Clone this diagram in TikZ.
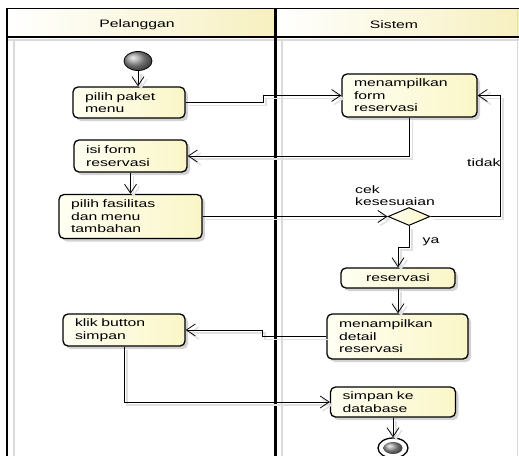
\documentclass[tikz,border=0pt]{standalone}
\usepackage{fontspec}
\setmainfont[FakeStretch=1.46]{Liberation Sans}
\usetikzlibrary{arrows.meta,shapes.geometric,shadows,calc}
\definecolor{boxlite}{HTML}{FFFFF2}
\definecolor{boxdeep}{HTML}{FAF6C8}
\definecolor{headdeep}{HTML}{F7F0C0}
\definecolor{laneshadow}{HTML}{DADADA}

\begin{document}
\begin{tikzpicture}[x=1pt,y=-1pt,
  txt/.style={font=\fontsize{10.8}{12.6}\selectfont},
  lbl/.style={txt, inner sep=0pt},
  act/.style={txt, draw=black, line width=1.3pt, rounded corners=5pt,
    left color=boxlite, right color=boxdeep, align=left,
    inner xsep=12pt, inner ysep=0pt,
    drop shadow={shadow xshift=3pt, shadow yshift=-3pt, opacity=0.35, fill=black!50}},
  flow/.style={draw=black, line width=0.8pt,
    -{Straight Barb[length=9pt,width=12pt]},
    preaction={draw=black!12, line width=1.4pt, transform canvas={shift={(3pt,-3pt)}}}},
  lane/.style={line width=1.6pt, black},
]
\useasboundingbox (0,0) rectangle (519,455);
\clip (0,0) rectangle (519,455);

% swimlane headers
\shade[left color=white, right color=headdeep] (7,8.5) rectangle (275.5,37);
\shade[left color=white, right color=headdeep] (275.5,8.5) rectangle (519,37);
\draw[laneshadow, line width=2pt] (7,40) -- (519,40);
\draw[laneshadow, line width=2pt] (14,40) -- (14,460);
\draw[laneshadow, line width=2pt] (282,40) -- (282,460);
\draw[laneshadow, line width=1pt] (517,8) -- (517,460);
\draw[lane] (7,8.5) -- (519,8.5);
\draw[lane] (7,37) -- (519,37);
\draw[lane] (7,7.7) -- (7,460);
\draw[lane, line width=2.6pt] (275.5,7.7) -- (275.5,460);
\node[lbl] (hP) at (137,25) {Pelanggan};
\node[lbl] (hS) at (394,25) {Sistem};

% start / end
\node[ellipse, draw, line width=0.8pt, minimum width=28pt, minimum height=19pt,
  inner sep=0pt, ball color=black!40] (start) at (138,61) {};
\node[ellipse, draw, line width=1.3pt, fill=white, minimum width=30pt,
  minimum height=20pt, inner sep=0pt] (stop) at (393,448) {};
\node[ellipse, ball color=black!40, minimum width=19pt, minimum height=12pt,
  inner sep=0pt] (stopcore) at (stop.center) {};

% actions
\node[act, text width=88pt, minimum height=31pt] (p1) at (129,102.5) {pilih paket\\menu};
\node[act, text width=111pt, minimum height=43pt] (m1) at (409.5,95.5) {menampilkan\\form\\reservasi};
\node[act, text width=89pt, minimum height=32pt] (i1) at (130.5,156) {isi form\\reservasi};
\node[act, text width=119pt, minimum height=44pt] (f1) at (130.5,216.5) {pilih fasilitas\\dan menu\\tambahan};
\node[act, align=center, text width=90pt, minimum height=20pt] (r1) at (398,278) {reservasi};
\node[act, text width=117pt, minimum height=45pt] (d1) at (397.5,336.5) {menampilkan\\detail\\reservasi};
\node[act, text width=98pt, minimum height=32pt] (k1) at (124,330) {klik button\\simpan};
\node[act, text width=101pt, minimum height=30pt] (s1) at (393,402) {simpan ke\\database};

% decision
\node[diamond, draw, line width=1pt, left color=boxlite, right color=boxdeep,
  minimum width=42pt, minimum height=18pt, inner sep=0pt] (chk) at (409,216.5) {};
\node[lbl, align=left, anchor=south west] (chklbl) at (355,206) {cek\\kesesuaian};
\node[lbl, anchor=west] (tidak) at (467,163) {tidak};
\node[lbl] (ya) at (431,242) {ya};

% flows
\draw[flow] (start) -- (start |- p1.north);
\draw[flow] (p1.east) -- (263,102.5) -- (263,95.5) -- (m1.west);
\draw[flow] (m1.south) |- (i1.east);
\draw[flow] (i1.south) -- (i1.south |- f1.north);
\draw[flow] (f1.east) -- (chk.west);
\draw[flow] (chk.east) -- (500,216.5) |- (m1.east);
\draw[flow] (chk.south) -- ++(0,21) -| (r1.north);
\draw[flow] (r1.south) -- (r1.south |- d1.north);
\draw[flow] (d1.west) -- (262,336.5) |- (k1.east);
\draw[flow] (k1.south) |- (s1.west);
\draw[flow] (s1.south) -- (stop.north);
\end{tikzpicture}
\end{document}
